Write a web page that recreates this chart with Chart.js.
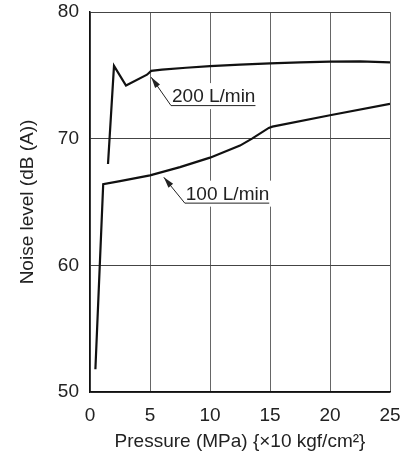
<!DOCTYPE html>
<html>
<head>
<meta charset="utf-8">
<script src="https://cdn.jsdelivr.net/npm/chart.js@4"></script>
<style>
  html, body { margin: 0; padding: 0; background: #fff; }
  #wrap { width: 404px; height: 456px; }
</style>
</head>
<body>
<div id="wrap"><canvas id="noise-graph"></canvas></div>
<script>
// pressure (MPa) / noise level (dB(A))
var flow200X = [1.5, 2.0, 3.0, 4.75, 5.1, 6, 8, 10, 12.5, 15, 17.5, 20, 22.5, 25];
var flow200Y = [68.0, 75.75, 74.2, 75.05, 75.35, 75.45, 75.6, 75.72, 75.85, 75.95, 76.02, 76.08, 76.1, 76.02];
var flow100X = [0.45, 1.1, 2.5, 5, 7.5, 10, 12.5, 13.5, 14.9, 15.2, 20, 25];
var flow100Y = [51.8, 66.4, 66.65, 67.1, 67.75, 68.5, 69.45, 70.0, 70.85, 70.95, 71.85, 72.75];
var seriesLabels = ['200 L/min', '100 L/min'];
var xTicks = [0, 5, 10, 15, 20, 25];
var yTicks = [50, 60, 70, 80];

function toPoints(xs, ys) {
    var pts = [];
    for (var i = 0; i < xs.length; i++) pts.push({x: xs[i], y: ys[i]});
    return pts;
}

// callout placement (underline start, underline level, arrow tip) in data units
var callouts = [
    {text: seriesLabels[0], x: 6.75, y: 72.65, tipX: 5.1, tipY: 74.85},
    {text: seriesLabels[1], x: 7.9, y: 64.95, tipX: 6.15, tipY: 66.95}
];

var calloutPlugin = {
    id: 'callouts',
    afterDatasetsDraw: function(chart) {
        var ctx = chart.ctx;
        var xs = chart.scales.x, ys = chart.scales.y;
        ctx.save();
        ctx.font = '19px "Liberation Sans", Arial, sans-serif';
        for (var i = 0; i < callouts.length; i++) {
            var c = callouts[i];
            var x0 = xs.getPixelForValue(c.x);
            var yU = ys.getPixelForValue(c.y);
            var tx = xs.getPixelForValue(c.tipX);
            var ty = ys.getPixelForValue(c.tipY);
            var w = ctx.measureText(c.text).width + 1;
            ctx.fillStyle = '#fff';
            ctx.fillRect(x0, yU - 22, w + 2, 26);
            ctx.fillStyle = '#222';
            ctx.textBaseline = 'alphabetic';
            ctx.fillText(c.text, x0 + 1, yU - 3);
            ctx.strokeStyle = '#222';
            ctx.lineWidth = 1;
            ctx.beginPath();
            ctx.moveTo(x0 + w, yU + 0.5);
            ctx.lineTo(x0, yU + 0.5);
            ctx.lineTo(tx, ty);
            ctx.stroke();
            // arrow head
            var ang = Math.atan2(ty - yU, tx - x0);
            var len = 11, half = 3;
            ctx.beginPath();
            ctx.moveTo(tx, ty);
            ctx.lineTo(tx - len * Math.cos(ang) + half * Math.sin(ang), ty - len * Math.sin(ang) - half * Math.cos(ang));
            ctx.lineTo(tx - len * Math.cos(ang) - half * Math.sin(ang), ty - len * Math.sin(ang) + half * Math.cos(ang));
            ctx.closePath();
            ctx.fill();
        }
        ctx.restore();
    }
};

Chart.defaults.font.family = '"Liberation Sans", Arial, sans-serif';
Chart.defaults.color = '#222';

var ctx = document.getElementById('noise-graph');
var myChart = new Chart(ctx, {
    type: 'line',
    data: {
        datasets: [{
            label: seriesLabels[0],
            data: toPoints(flow200X, flow200Y),
            borderColor: '#111',
            borderWidth: 2.2,
            pointRadius: 0,
            tension: 0
        }, {
            label: seriesLabels[1],
            data: toPoints(flow100X, flow100Y),
            borderColor: '#111',
            borderWidth: 2.2,
            pointRadius: 0,
            tension: 0
        }]
    },
    plugins: [calloutPlugin],
    options: {
        responsive: true,
        maintainAspectRatio: false,
        animation: false,
        layout: { padding: { top: 12, right: 14, left: 0, bottom: 0 } },
        scales: {
            x: {
                type: 'linear',
                min: 0,
                max: 25,
                afterBuildTicks: function(scale) {
                    scale.ticks = xTicks.map(function(v) { return {value: v}; });
                },
                grid: { color: '#666', lineWidth: 1, drawTicks: false },
                border: { color: '#111', width: 1.5 },
                ticks: { padding: 12, font: { size: 19 }, maxRotation: 0 },
                title: {
                    display: true,
                    text: 'Pressure (MPa) {\u00d710 kgf/cm\u00b2}',
                    font: { size: 19 },
                    padding: { top: 0, bottom: 3 }
                },
                afterFit: function(scale) {
                    scale.height = 64;
                    scale.paddingLeft = 0;
                    scale.paddingRight = 0;
                }
            },
            y: {
                type: 'linear',
                min: 50,
                max: 80,
                afterBuildTicks: function(scale) {
                    scale.ticks = yTicks.map(function(v) { return {value: v}; });
                },
                grid: { color: '#444', lineWidth: 1, drawTicks: false },
                border: { color: '#111', width: 1.5 },
                ticks: { padding: 11, font: { size: 19 } },
                title: {
                    display: true,
                    text: 'Noise level (dB (A))',
                    font: { size: 19 },
                    padding: { top: 16, bottom: 0 }
                },
                afterFit: function(scale) {
                    scale.width = 90;
                    scale.paddingTop = 0;
                    scale.paddingBottom = 0;
                }
            }
        },
        plugins: {
            legend: { display: false },
            tooltip: { enabled: false }
        }
    }
});
</script>
</body>
</html>
